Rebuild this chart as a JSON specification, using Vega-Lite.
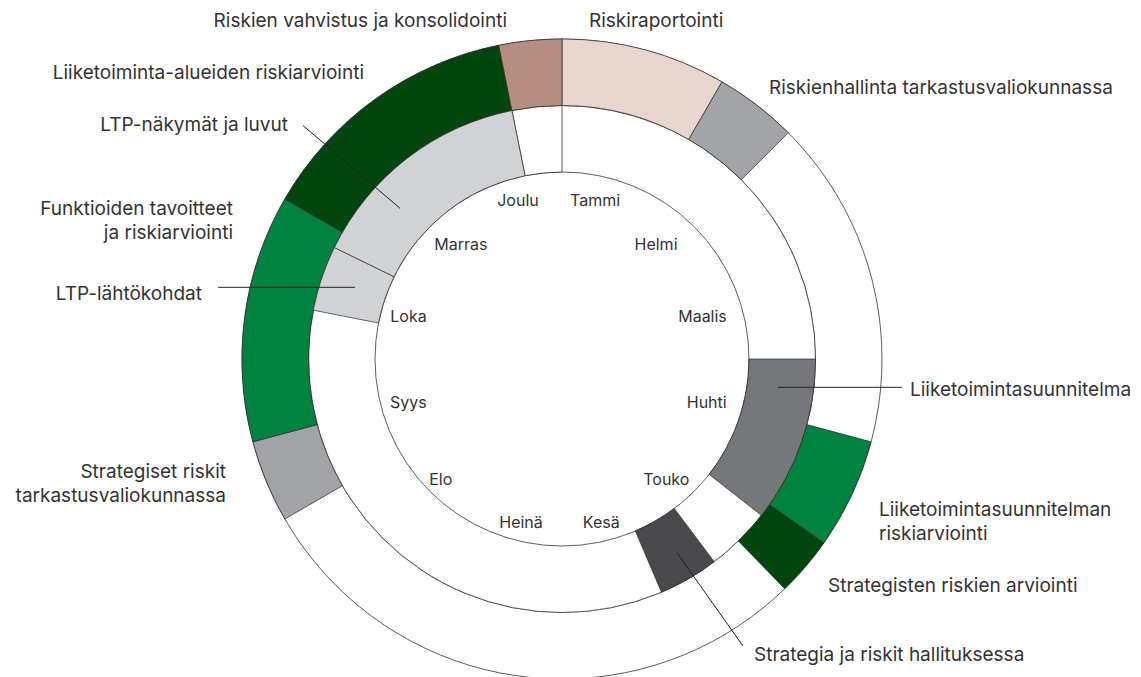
{
  "$schema": "https://vega.github.io/schema/vega-lite/v6.json",
  "width": 1124,
  "height": 718,
  "autosize": {"type": "none"},
  "padding": {"left": 0, "top": 0, "right": 17, "bottom": 0},
  "background": "white",
  "config": {"view": {"stroke": null}, "text": {"font": "Inter", "color": "#333333"}},
  "layer": [
    {
      "data": {"values": [
        {"ring": "ulkokehä", "start": 0, "end": 12, "level": 1, "level2": 2},
        {"ring": "sisäkehä", "start": 0, "end": 12, "level": 0, "level2": 1},
        {"ring": "sisäkehä", "start": 11.62, "end": 12, "level": 0, "level2": 1}
      ]},
      "mark": {"type": "arc", "fill": "white", "stroke": "#333333", "strokeWidth": 0.8},
      "encoding": {
        "theta": {"field": "start", "type": "quantitative", "stack": null, "scale": {"type": "linear", "domain": [0, 12], "range": [0, 6.283185307179586], "zero": true}},
        "theta2": {"field": "end"},
        "radius": {"field": "level", "type": "quantitative", "scale": {"type": "linear", "domain": [0, 2], "range": [187, 320], "zero": false}},
        "radius2": {"field": "level2"}
      }
    },
    {
      "data": {"values": [
        {"task": "Riskiraportointi", "start": 0, "end": 1, "level": 1, "level2": 2},
        {"task": "Riskienhallinta tarkastusvaliokunnassa", "start": 1, "end": 1.5, "level": 1, "level2": 2},
        {"task": "Liiketoimintasuunnitelman riskiarviointi", "start": 3.5, "end": 4.17, "level": 1, "level2": 2},
        {"task": "Strategisten riskien arviointi", "start": 4.17, "end": 4.53, "level": 1, "level2": 2},
        {"task": "Strategiset riskit tarkastusvaliokunnassa", "start": 8, "end": 8.5, "level": 1, "level2": 2},
        {"task": "Funktioiden tavoitteet ja riskiarviointi", "start": 8.5, "end": 10, "level": 1, "level2": 2},
        {"task": "Liiketoiminta-alueiden riskiarviointi", "start": 10, "end": 11.62, "level": 1, "level2": 2},
        {"task": "Riskien vahvistus ja konsolidointi", "start": 11.62, "end": 12, "level": 1, "level2": 2},
        {"task": "Liiketoimintasuunnitelma", "start": 3, "end": 4.27, "level": 0, "level2": 1},
        {"task": "Strategia ja riskit hallituksessa", "start": 4.77, "end": 5.23, "level": 0, "level2": 1},
        {"task": "LTP-lähtökohdat", "start": 9.37, "end": 9.87, "level": 0, "level2": 1},
        {"task": "LTP-näkymät ja luvut", "start": 9.87, "end": 11.62, "level": 0, "level2": 1}
      ]},
      "mark": {"type": "arc", "stroke": "#2b2b2b", "strokeWidth": 0.7},
      "encoding": {
        "theta": {"field": "start", "type": "quantitative", "stack": null, "scale": {"type": "linear", "domain": [0, 12], "range": [0, 6.283185307179586], "zero": true}},
        "theta2": {"field": "end"},
        "radius": {"field": "level", "type": "quantitative", "scale": {"type": "linear", "domain": [0, 2], "range": [187, 320], "zero": false}},
        "radius2": {"field": "level2"},
        "color": {"field": "task", "type": "nominal", "legend": null, "scale": {
          "domain": ["Riskiraportointi", "Riskienhallinta tarkastusvaliokunnassa", "Liiketoimintasuunnitelman riskiarviointi", "Strategisten riskien arviointi", "Strategiset riskit tarkastusvaliokunnassa", "Funktioiden tavoitteet ja riskiarviointi", "Liiketoiminta-alueiden riskiarviointi", "Riskien vahvistus ja konsolidointi", "Liiketoimintasuunnitelma", "Strategia ja riskit hallituksessa", "LTP-lähtökohdat", "LTP-näkymät ja luvut"],
          "range": ["#e8d5ce", "#a2a3a6", "#00833f", "#01460f", "#a2a3a6", "#00833f", "#01460f", "#b58e80", "#76777a", "#4a4a4c", "#d1d2d4", "#d1d2d4"]
        }}
      }
    },
    {
      "data": {"values": [
        {"label": "LTP-näkymät ja luvut", "x1": -259, "y1": 233.5, "x2": -162, "y2": 150.7},
        {"label": "LTP-lähtökohdat", "x1": -344, "y1": 71.7, "x2": -207, "y2": 71.7},
        {"label": "Liiketoimintasuunnitelma", "x1": 216, "y1": -28.3, "x2": 340, "y2": -28.3},
        {"label": "Strategia ja riskit hallituksessa", "x1": 115.3, "y1": -194.3, "x2": 181, "y2": -287}
      ]},
      "mark": {"type": "rule", "stroke": "#222222", "strokeWidth": 1},
      "encoding": {
        "x": {"field": "x1", "type": "quantitative", "axis": null, "scale": {"type": "linear", "domain": [-562, 562], "nice": false, "zero": false}},
        "y": {"field": "y1", "type": "quantitative", "axis": null, "scale": {"type": "linear", "domain": [-359, 359], "nice": false, "zero": false}},
        "x2": {"field": "x2"},
        "y2": {"field": "y2"}
      }
    },
    {
      "data": {"values": [
        {"month": "Tammi", "lx": 33, "ly": 158.3},
        {"month": "Helmi", "lx": 94, "ly": 114},
        {"month": "Maalis", "lx": 140.5, "ly": 42},
        {"month": "Huhti", "lx": 144.7, "ly": -43.7},
        {"month": "Touko", "lx": 104.3, "ly": -121},
        {"month": "Kesä", "lx": 39.3, "ly": -164.3},
        {"month": "Heinä", "lx": -41, "ly": -164.3},
        {"month": "Elo", "lx": -121.2, "ly": -121},
        {"month": "Syys", "lx": -153.7, "ly": -43.7},
        {"month": "Loka", "lx": -153.5, "ly": 42},
        {"month": "Marras", "lx": -101.2, "ly": 114},
        {"month": "Joulu", "lx": -44, "ly": 158.3}
      ]},
      "mark": {"type": "text", "fontSize": 16, "align": "center", "baseline": "middle"},
      "encoding": {
        "x": {"field": "lx", "type": "quantitative", "axis": null, "scale": {"type": "linear", "domain": [-562, 562], "nice": false, "zero": false}},
        "y": {"field": "ly", "type": "quantitative", "axis": null, "scale": {"type": "linear", "domain": [-359, 359], "nice": false, "zero": false}},
        "text": {"field": "month"}
      }
    },
    {
      "data": {"values": [
        {"label": "Riskien vahvistus ja konsolidointi", "lx": -55, "ly": 332},
        {"label": "Liiketoiminta-alueiden riskiarviointi", "lx": -198, "ly": 280},
        {"label": "LTP-näkymät ja luvut", "lx": -274, "ly": 228},
        {"label": "Funktioiden tavoitteet\nja riskiarviointi", "lx": -329, "ly": 144},
        {"label": "LTP-lähtökohdat", "lx": -360, "ly": 59},
        {"label": "Strategiset riskit\ntarkastusvaliokunnassa", "lx": -336, "ly": -119}
      ]},
      "mark": {"type": "text", "fontSize": 19, "align": "right", "baseline": "alphabetic", "lineBreak": "\n", "lineHeight": 24},
      "encoding": {
        "x": {"field": "lx", "type": "quantitative", "axis": null, "scale": {"type": "linear", "domain": [-562, 562], "nice": false, "zero": false}},
        "y": {"field": "ly", "type": "quantitative", "axis": null, "scale": {"type": "linear", "domain": [-359, 359], "nice": false, "zero": false}},
        "text": {"field": "label"}
      }
    },
    {
      "data": {"values": [
        {"label": "Riskiraportointi", "lx": 27, "ly": 332.3},
        {"label": "Riskienhallinta tarkastusvaliokunnassa", "lx": 207, "ly": 265},
        {"label": "Liiketoimintasuunnitelma", "lx": 348, "ly": -37},
        {"label": "Liiketoimintasuunnitelman\nriskiarviointi", "lx": 317, "ly": -157},
        {"label": "Strategisten riskien arviointi", "lx": 266, "ly": -233},
        {"label": "Strategia ja riskit hallituksessa", "lx": 192, "ly": -302}
      ]},
      "mark": {"type": "text", "fontSize": 19, "align": "left", "baseline": "alphabetic", "lineBreak": "\n", "lineHeight": 24},
      "encoding": {
        "x": {"field": "lx", "type": "quantitative", "axis": null, "scale": {"type": "linear", "domain": [-562, 562], "nice": false, "zero": false}},
        "y": {"field": "ly", "type": "quantitative", "axis": null, "scale": {"type": "linear", "domain": [-359, 359], "nice": false, "zero": false}},
        "text": {"field": "label"}
      }
    }
  ]
}
